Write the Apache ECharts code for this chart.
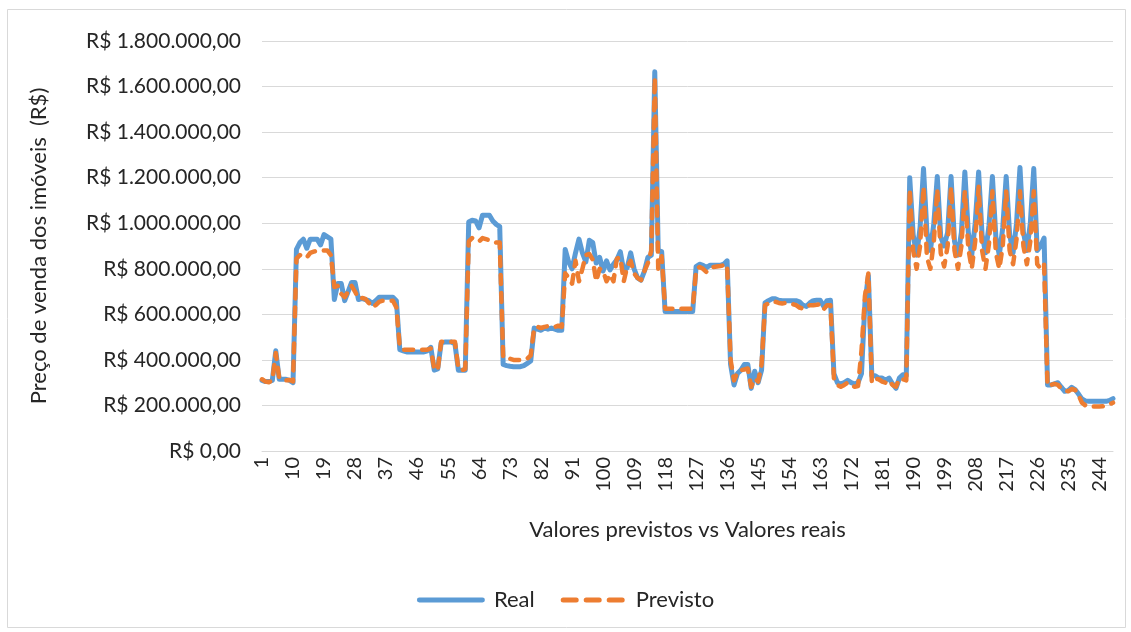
<!DOCTYPE html>
<html>
<head>
<meta charset="utf-8">
<script src="https://cdn.jsdelivr.net/npm/echarts@6/dist/echarts.min.js"></script>
<style>
  html, body { margin: 0; padding: 0; background: #fff; }
  #chart { width: 1131px; height: 632px; }
</style>
</head>
<body>
<div id="chart"></div>
<script>
// Sale prices (R$) per property, actual vs predicted
const real = [
  310000, 305000, 305000, 310000, 440000, 315000, 315000, 315000, 310000, 300000,
  885000, 915000, 930000, 890000, 930000, 930000, 930000, 905000, 950000, 940000,
  930000, 665000, 735000, 735000, 660000, 700000, 740000, 740000, 665000, 670000,
  665000, 660000, 648000, 660000, 675000, 675000, 675000, 675000, 675000, 660000,
  445000, 440000, 435000, 435000, 435000, 435000, 435000, 435000, 440000, 455000,
  355000, 360000, 475000, 478000, 478000, 478000, 470000, 355000, 355000, 355000,
  1005000, 1013000, 1010000, 980000, 1035000, 1035000, 1035000, 1010000, 995000, 985000,
  380000, 375000, 372000, 370000, 370000, 370000, 375000, 385000, 395000, 540000,
  535000, 530000, 540000, 535000, 540000, 535000, 530000, 530000, 885000, 830000,
  800000, 870000, 930000, 870000, 830000, 925000, 915000, 825000, 850000, 790000,
  835000, 795000, 820000, 840000, 875000, 790000, 805000, 870000, 800000, 760000,
  750000, 790000, 850000, 860000, 1665000, 880000, 875000, 612000, 612000, 612000,
  612000, 612000, 612000, 612000, 612000, 612000, 810000, 820000, 815000, 805000,
  815000, 815000, 815000, 815000, 820000, 835000, 380000, 290000, 340000, 355000,
  380000, 380000, 275000, 350000, 300000, 355000, 650000, 660000, 668000, 668000,
  662000, 660000, 660000, 660000, 660000, 660000, 655000, 640000, 635000, 650000,
  660000, 662000, 662000, 635000, 660000, 662000, 340000, 300000, 295000, 300000,
  310000, 300000, 295000, 300000, 340000, 650000, 770000, 330000, 330000, 320000,
  320000, 310000, 320000, 295000, 275000, 320000, 335000, 330000, 1200000, 950000,
  860000, 980000, 1240000, 960000, 880000, 1000000, 1205000, 940000, 900000, 960000,
  1205000, 920000, 860000, 960000, 1225000, 960000, 860000, 1000000, 1225000, 950000,
  870000, 990000, 1205000, 940000, 860000, 980000, 1205000, 950000, 870000, 1000000,
  1245000, 960000, 880000, 1000000, 1240000, 880000, 900000, 935000, 290000, 290000,
  295000, 300000, 280000, 262000, 265000, 280000, 270000, 250000, 228000, 220000,
  218000, 218000, 218000, 218000, 218000, 218000, 222000, 230000
];

const previsto = [
  315000, 305000, 302000, 310000, 430000, 320000, 315000, 310000, 312000, 305000,
  845000, 860000, 850000, 850000, 870000, 875000, 880000, 880000, 880000, 880000,
  860000, 720000, 725000, 690000, 675000, 700000, 725000, 700000, 670000, 672000,
  668000, 650000, 630000, 640000, 655000, 660000, 660000, 660000, 660000, 630000,
  455000, 445000, 445000, 445000, 445000, 445000, 445000, 445000, 445000, 450000,
  360000, 355000, 480000, 480000, 480000, 480000, 480000, 360000, 355000, 360000,
  920000, 935000, 930000, 920000, 935000, 930000, 925000, 920000, 915000, 915000,
  410000, 405000, 405000, 400000, 400000, 400000, 402000, 405000, 420000, 540000,
  545000, 540000, 545000, 548000, 550000, 545000, 550000, 545000, 780000, 760000,
  735000, 835000, 745000, 800000, 860000, 865000, 840000, 745000, 800000, 790000,
  745000, 775000, 745000, 845000, 850000, 745000, 810000, 835000, 780000, 760000,
  750000, 790000, 825000, 880000, 1640000, 800000, 855000, 625000, 625000, 625000,
  625000, 625000, 625000, 625000, 625000, 625000, 795000, 808000, 800000, 786000,
  800000, 808000, 810000, 812000, 815000, 818000, 400000, 310000, 345000, 355000,
  358000, 362000, 282000, 318000, 305000, 380000, 640000, 648000, 655000, 655000,
  650000, 648000, 650000, 648000, 645000, 640000, 630000, 625000, 630000, 640000,
  640000, 642000, 645000, 622000, 640000, 640000, 320000, 290000, 282000, 290000,
  300000, 290000, 282000, 285000, 440000, 680000, 780000, 300000, 318000, 315000,
  305000, 300000, 310000, 290000, 282000, 318000, 315000, 310000, 1150000, 880000,
  800000, 900000, 1160000, 850000, 800000, 920000, 1150000, 870000, 810000, 900000,
  1160000, 880000, 800000, 900000, 1140000, 890000, 800000, 920000, 1160000, 880000,
  800000, 910000, 1140000, 870000, 800000, 900000, 1140000, 880000, 820000, 930000,
  1140000, 900000, 820000, 920000, 1140000, 820000, 800000, 820000, 285000, 290000,
  295000, 290000, 275000, 265000, 262000, 272000, 268000, 245000, 212000, 200000,
  195000, 195000, 195000, 195000, 196000, 200000, 205000, 212000
];

// Observation numbers 1..n
const categorias = real.map((_, i) => String(i + 1));

const yMin = 0, yMax = 1800000, yStep = 200000;

function formatBRL(v) {
  const inteiro = Math.round(v).toString().replace(/\B(?=(\d{3})+(?!\d))/g, '.');
  return 'R$ ' + inteiro + ',00';
}

const FONT = 'Lato, "Open Sans", sans-serif';
const TEXT = '#262626';
const AZUL = '#5b9bd5';
const LARANJA = '#ed7d31';

// Legend keys: a solid rounded bar and three rounded dashes
const ICON_SOLIDO = 'path://M2.5,0 H67.5 A2.5,2.5 0 0 1 67.5,5 H2.5 A2.5,2.5 0 0 1 2.5,0 Z';
const ICON_TRACEJADO = 'path://M2.5,0 H15.5 A2.5,2.5 0 0 1 15.5,5 H2.5 A2.5,2.5 0 0 1 2.5,0 Z ' +
  'M25.5,0 H38.5 A2.5,2.5 0 0 1 38.5,5 H25.5 A2.5,2.5 0 0 1 25.5,0 Z ' +
  'M48.5,0 H61.5 A2.5,2.5 0 0 1 61.5,5 H48.5 A2.5,2.5 0 0 1 48.5,0 Z';

const chart = echarts.init(document.getElementById('chart'), null, { renderer: 'canvas' });

chart.setOption({
  backgroundColor: '#ffffff',
  animation: false,
  textStyle: { fontFamily: FONT, color: TEXT },
  graphic: [{
    type: 'rect',
    silent: true,
    shape: { x: 7.5, y: 9.5, width: 1118, height: 618 },
    style: { fill: 'none', stroke: '#d9d9d9', lineWidth: 1 }
  }],
  grid: { left: 262, right: 18, top: 41, bottom: 181, containLabel: false },
  legend: {
    bottom: 16,
    left: 'center',
    itemWidth: 68,
    itemHeight: 5,
    itemGap: 26,
    textStyle: { fontFamily: FONT, fontSize: 22, color: TEXT, padding: [0, 0, 0, 4] },
    data: [
      { name: 'Real', icon: ICON_SOLIDO, itemStyle: { color: AZUL } },
      { name: 'Previsto', icon: ICON_TRACEJADO, itemStyle: { color: LARANJA } }
    ]
  },
  xAxis: {
    type: 'category',
    data: categorias,
    boundaryGap: false,
    name: 'Valores previstos vs Valores reais',
    nameLocation: 'middle',
    nameGap: 68,
    nameTextStyle: { fontFamily: FONT, fontSize: 22, color: TEXT },
    axisLine: { show: true, lineStyle: { color: '#d9d9d9', width: 1 } },
    axisTick: { show: false },
    axisLabel: {
      interval: 8,
      rotate: 90,
      margin: 6,
      fontFamily: FONT,
      fontSize: 20,
      color: TEXT
    },
    splitLine: { show: false }
  },
  yAxis: {
    type: 'value',
    min: yMin,
    max: yMax,
    interval: yStep,
    name: 'Preço de venda dos imóveis  (R$)',
    nameLocation: 'middle',
    nameGap: 212,
    nameRotate: 90,
    nameTextStyle: { fontFamily: FONT, fontSize: 22, color: TEXT },
    axisLine: { show: false },
    axisTick: { show: false },
    axisLabel: {
      margin: 21,
      fontFamily: FONT,
      fontSize: 21,
      color: TEXT,
      formatter: formatBRL
    },
    splitLine: { show: true, lineStyle: { color: '#d9d9d9', width: 1 } }
  },
  series: [
    {
      name: 'Real',
      type: 'line',
      data: real,
      symbol: 'none',
      showSymbol: false,
      color: AZUL,
      lineStyle: { color: AZUL, width: 5, cap: 'round', join: 'round' }
    },
    {
      name: 'Previsto',
      type: 'line',
      data: previsto,
      symbol: 'none',
      showSymbol: false,
      color: LARANJA,
      lineStyle: { color: LARANJA, width: 4.5, type: [9, 9], cap: 'round', join: 'round' }
    }
  ]
});
</script>
</body>
</html>
